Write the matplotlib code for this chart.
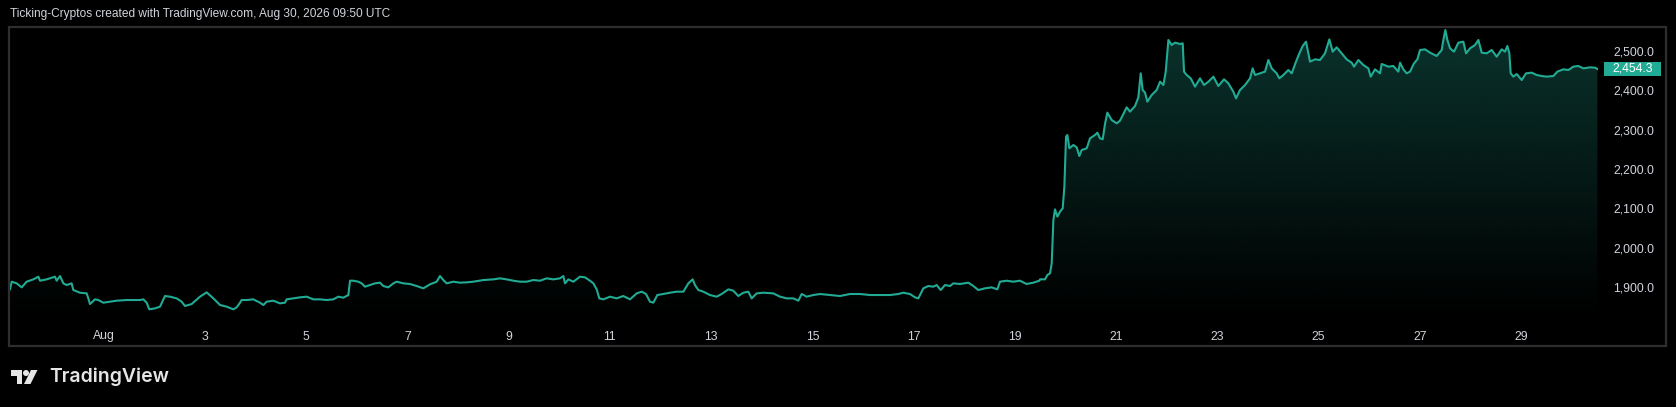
import matplotlib
matplotlib.use("Agg")
import matplotlib.pyplot as plt
import matplotlib.transforms as mtransforms
from matplotlib.patches import Polygon, Circle, Rectangle
import numpy as np

# Day of August (1.0 = Aug 1 00:00 UTC) and price
days = [
    -0.851, -0.818, -0.719, -0.620, -0.522, -0.390, -0.291, -0.258, -0.127, 0.038,
    0.071, 0.137, 0.203, 0.268, 0.367, 0.400, 0.532, 0.664, 0.696, 0.729,
    0.828, 0.894, 0.993, 1.256, 1.454, 1.717, 1.783, 1.849, 1.901, 2.013,
    2.112, 2.211, 2.310, 2.441, 2.540, 2.606, 2.738, 2.902, 3.034, 3.166,
    3.298, 3.429, 3.561, 3.627, 3.693, 3.725, 3.824, 3.956, 4.088, 4.154,
    4.219, 4.351, 4.483, 4.581, 4.614, 4.746, 4.878, 5.010, 5.141, 5.273,
    5.405, 5.536, 5.635, 5.734, 5.833, 5.866, 5.932, 6.030, 6.096, 6.162,
    6.261, 6.359, 6.458, 6.524, 6.623, 6.722, 6.787, 6.919, 7.051, 7.183,
    7.314, 7.446, 7.578, 7.643, 7.709, 7.775, 7.907, 8.039, 8.170, 8.302,
    8.500, 8.697, 8.829, 8.961, 9.093, 9.212,
    9.224, 9.356, 9.487, 9.619, 9.751, 9.883, 10.014, 10.080, 10.113, 10.179,
    10.278, 10.409, 10.508, 10.607, 10.673, 10.739, 10.791, 10.870, 11.002, 11.134,
    11.265, 11.397, 11.529, 11.628, 11.713, 11.792, 11.858, 11.937, 12.056, 12.187,
    12.319, 12.451, 12.550, 12.635, 12.681, 12.747, 12.846, 12.977, 13.109, 13.208,
    13.340, 13.438, 13.537, 13.636, 13.735, 13.801, 13.899, 14.031, 14.229, 14.360,
    14.492, 14.624, 14.723, 14.789, 14.887, 15.019, 15.151, 15.348, 15.546, 15.743,
    15.941, 16.138, 16.336, 16.533, 16.698, 16.797, 16.928, 17.027, 17.093, 17.192,
    17.291, 17.389, 17.455, 17.535, 17.620, 17.719, 17.785, 17.916, 18.081, 18.180,
    18.278, 18.410, 18.542, 18.654, 18.706, 18.838, 18.970, 19.101, 19.233, 19.365,
    19.484,
    19.497, 19.596, 19.642, 19.695, 19.728, 19.761, 19.793, 19.840, 19.892, 19.945,
    19.978, 20.011, 20.037, 20.077, 20.156, 20.221, 20.274, 20.320, 20.419, 20.485,
    20.584, 20.630, 20.682, 20.735, 20.781, 20.827, 20.913, 21.012, 21.077, 21.209,
    21.275, 21.374, 21.440, 21.486, 21.525, 21.572, 21.618, 21.703, 21.802, 21.868,
    21.934, 21.980, 22.033, 22.098, 22.164, 22.263, 22.316, 22.342, 22.395, 22.474,
    22.560, 22.658, 22.737, 22.823, 22.922, 23.020, 23.132, 23.218, 23.316, 23.369,
    23.448, 23.547, 23.646, 23.698, 23.745, 23.843, 23.942, 24.008, 24.074, 24.172,
    24.225, 24.304, 24.403, 24.469, 24.554, 24.620, 24.686, 24.752, 24.798,
    24.831, 24.930, 25.029, 25.127, 25.213, 25.279, 25.358, 25.457, 25.555, 25.654,
    25.700, 25.786, 25.885, 25.983, 26.030, 26.115, 26.214, 26.247, 26.379, 26.477,
    26.576, 26.609, 26.675, 26.740, 26.806, 26.885, 26.951, 27.004, 27.103, 27.202,
    27.333, 27.432, 27.465, 27.504, 27.544, 27.597, 27.676, 27.761, 27.860, 27.913,
    27.992, 28.091, 28.157, 28.222, 28.321, 28.420, 28.519, 28.618, 28.683, 28.729,
    28.769, 28.795, 28.848, 28.914, 29.013, 29.098, 29.210, 29.309, 29.408, 29.507,
    29.638, 29.717, 29.836, 29.935, 30.033, 30.132, 30.231, 30.362, 30.461, 30.508,
]
prices = [
    1894.1, 1913.6, 1909.4, 1899.2, 1913.6, 1919.5, 1926.3, 1916.1, 1919.5, 1926.3,
    1916.1, 1928.0, 1909.4, 1905.1, 1909.4, 1892.4, 1885.6, 1883.9, 1871.2, 1856.8,
    1868.7, 1867.0, 1860.2, 1865.3, 1867.0, 1867.0, 1868.7, 1860.2, 1843.3, 1845.8,
    1850.1, 1877.2, 1875.5, 1871.2, 1862.8, 1851.8, 1856.8, 1875.5, 1886.5, 1871.2,
    1854.3, 1850.1, 1843.3, 1848.4, 1860.2, 1867.0, 1867.0, 1868.7, 1860.2, 1854.3,
    1862.8, 1865.3, 1858.5, 1860.2, 1868.7, 1871.2, 1873.8, 1875.5, 1868.7, 1868.7,
    1867.0, 1868.7, 1875.5, 1872.9, 1879.7, 1916.1, 1916.1, 1913.6, 1909.4, 1900.9,
    1905.1, 1909.4, 1911.1, 1902.6, 1899.2, 1909.4, 1913.6, 1909.4, 1907.7, 1902.6,
    1896.7, 1906.8, 1913.6, 1928.0, 1917.8, 1909.4, 1913.6, 1911.1, 1911.9, 1913.6,
    1917.8, 1919.5, 1922.1, 1919.5, 1916.1, 1913.6,
    1913.6, 1913.6, 1917.8, 1916.1, 1922.1, 1919.5, 1922.1, 1928.0, 1909.4, 1919.5,
    1913.6, 1926.3, 1924.6, 1916.1, 1909.4, 1894.1, 1871.2, 1868.7, 1875.5, 1871.2,
    1877.2, 1868.7, 1883.9, 1888.2, 1882.3, 1862.8, 1860.2, 1879.7, 1882.3, 1885.6,
    1888.2, 1888.2, 1909.4, 1919.5, 1905.1, 1892.4, 1888.2, 1879.7, 1875.5, 1882.3,
    1894.1, 1890.7, 1877.2, 1885.6, 1888.2, 1871.2, 1883.9, 1885.6, 1883.9, 1875.5,
    1871.2, 1871.2, 1865.3, 1882.3, 1875.5, 1879.7, 1882.3, 1879.7, 1877.2, 1882.3,
    1882.3, 1879.7, 1879.7, 1879.7, 1882.3, 1885.6, 1882.3, 1873.8, 1871.2, 1896.7,
    1902.6, 1900.9, 1905.1, 1892.4, 1905.1, 1902.6, 1909.4, 1907.7, 1911.1, 1902.6,
    1892.4, 1896.7, 1899.2, 1894.1, 1913.6, 1916.1, 1913.6, 1916.1, 1907.7, 1911.1,
    1916.1,
    1919.6, 1919.6, 1930.6, 1934.9, 1960.3, 2070.4, 2097.5, 2078.9, 2091.6, 2100.1,
    2155.2, 2282.3, 2286.5, 2252.6, 2261.1, 2255.1, 2233.1, 2248.3, 2252.6, 2278.0,
    2286.5, 2292.4, 2278.0, 2275.5, 2314.4, 2343.3, 2324.6, 2316.1, 2322.9, 2356.8,
    2345.8, 2360.2, 2382.2, 2443.2, 2400.9, 2394.1, 2371.2, 2388.2, 2400.9, 2422.0,
    2413.6, 2447.5, 2528.0, 2515.3, 2521.2, 2517.8, 2519.5, 2447.5, 2439.0, 2430.5,
    2409.3, 2430.5, 2413.6, 2422.0, 2434.8, 2411.0, 2428.0, 2417.8, 2396.6, 2379.7,
    2400.9, 2413.6, 2430.5, 2455.9, 2439.0, 2443.2, 2447.5, 2477.1, 2455.9, 2443.2,
    2430.5, 2439.0, 2451.7, 2443.2, 2472.9, 2494.1, 2512.7, 2523.7, 2494.1,
    2472.9, 2478.8, 2477.1, 2494.1, 2529.6, 2498.3, 2509.3, 2494.1, 2478.8, 2470.3,
    2460.2, 2477.1, 2464.4, 2455.9, 2434.8, 2453.4, 2443.2, 2467.0, 2460.2, 2461.9,
    2447.5, 2470.3, 2453.4, 2443.2, 2447.5, 2468.6, 2478.8, 2502.5, 2504.2, 2495.8,
    2487.3, 2502.5, 2528.0, 2553.4, 2528.0, 2506.8, 2498.3, 2521.2, 2523.7, 2494.1,
    2506.8, 2515.3, 2528.0, 2495.8, 2494.1, 2502.5, 2485.6, 2504.2, 2498.3, 2512.7,
    2494.1, 2443.2, 2434.8, 2441.5, 2426.3, 2443.2, 2444.9, 2439.0, 2436.4, 2434.8,
    2436.4, 2447.5, 2453.4, 2451.7, 2460.2, 2461.9, 2455.9, 2458.5, 2457.6, 2454.3,
]

tick_days = [1, 3, 5, 7, 9, 11, 13, 15, 17, 19, 21, 23, 25, 27, 29]
tick_labels = ["Aug", "3", "5", "7", "9", "11", "13", "15", "17", "19",
               "21", "23", "25", "27", "29"]
price_ticks = [1900, 2000, 2100, 2200, 2300, 2400, 2500]
last_price = 2454.3
header = "Ticking-Cryptos created with TradingView.com, Aug 30, 2026 09:50 UTC"

plt.rcParams['font.family'] = ['Liberation Sans', 'DejaVu Sans']

W, H = 1676, 407
line_color = "#22ab94"
text_color = "#d1d4dc"

fig = plt.figure(figsize=(W / 100, H / 100), dpi=100, facecolor="black")


def px_box(x0, y0, x1, y1):
    return [x0 / W, 1 - y1 / H, (x1 - x0) / W, (y1 - y0) / H]


ax = fig.add_axes(px_box(10, 27, 1598, 318))
ax.set_facecolor("black")
x_lo, x_hi = -0.851, 30.52
y_lo, y_hi = 1821.3, 2561.0

# Area gradient under the line
fill = ax.fill_between(days, prices, y_lo, color="none", lw=0)
grad = np.zeros((256, 1, 4))
grad[..., 0] = 34 / 255
grad[..., 1] = 171 / 255
grad[..., 2] = 148 / 255
grad[:, 0, 3] = np.linspace(0.30, 0.0, 256)
img = ax.imshow(grad, extent=[x_lo, x_hi, y_lo, max(prices)], origin="upper",
                aspect="auto", zorder=2, interpolation="bilinear")
img.set_clip_path(fill.get_paths()[0], transform=ax.transData)

ax.plot(days, prices, color=line_color, lw=1.5, zorder=3, solid_joinstyle="round")

ax.set_xlim(x_lo, x_hi)
ax.set_ylim(y_lo, y_hi)
for s in ax.spines.values():
    s.set_visible(False)

ax.set_xticks(tick_days, tick_labels)
ax.tick_params(axis="x", length=0, pad=9, labelsize=8.8, labelcolor=text_color)
ax.yaxis.tick_right()
ax.set_yticks(price_ticks, [f"{v:,.1f}" for v in price_ticks])
ax.tick_params(axis="y", length=0, pad=11, labelsize=8.8, labelcolor=text_color)

# Last price label
blend = mtransforms.blended_transform_factory(ax.transAxes, ax.transData)
px_x = 1.0 / 1588
px_y = (y_hi - y_lo) / 291
ax.add_patch(Rectangle((6 * px_x + 1.0, last_price - 7 * px_y), 57 * px_x, 14 * px_y,
                       transform=blend, facecolor=line_color, edgecolor="none",
                       clip_on=False, zorder=5))
ax.text(1.0 + 34.5 * px_x, last_price, f"{last_price:,.1f}", transform=blend,
        ha="center", va="center", color="white", fontsize=8.8, zorder=6, clip_on=False)

# Overlay in pixel coordinates for frame, header and logo
ov = fig.add_axes([0, 0, 1, 1])
ov.set_xlim(0, W)
ov.set_ylim(H, 0)
ov.axis("off")
ov.patch.set_alpha(0)
ov.add_patch(Rectangle((9, 27), 1657, 319, fill=False, edgecolor="#2e2e2e", lw=1.6))
ov.text(10, 14, header, color=text_color, fontsize=8.6, va="center", ha="left")

logo_color = "#e6e6e6"
ov.add_patch(Polygon([(11, 370), (22, 370), (22, 384), (16.5, 384), (16.5, 376), (11, 376)],
                     closed=True, facecolor=logo_color, edgecolor="none"))
ov.add_patch(Circle((26, 373), 3, facecolor=logo_color, edgecolor="none"))
ov.add_patch(Polygon([(31, 370), (37.5, 370), (30.5, 384), (24, 384)],
                     closed=True, facecolor=logo_color, edgecolor="none"))
ov.text(49, 377, "TradingView", color=logo_color, fontsize=14, fontfamily=["Inter", "DejaVu Sans"],
        fontweight="semibold", va="center", ha="left")

fig.savefig("out.png", dpi=100, facecolor="black")
